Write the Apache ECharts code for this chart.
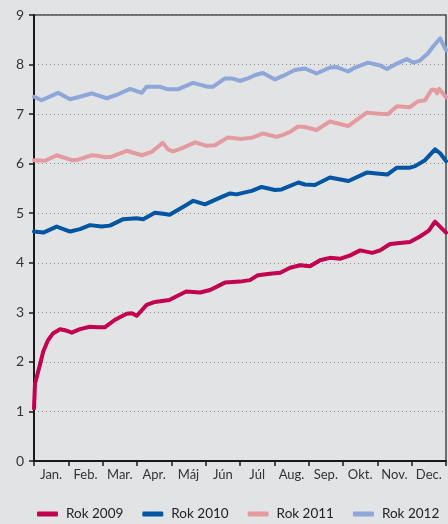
<!DOCTYPE html>
<html><head><meta charset="utf-8">
<script src="https://cdn.jsdelivr.net/npm/echarts@6/dist/echarts.min.js"></script>
<style>html,body{margin:0;padding:0;background:#e2e3e5;}#c{width:448px;height:524px;}</style>
</head><body><div id="c"></div>
<script>
const months = ['Jan.','Feb.','Mar.','Apr.','Máj','Jún','Júl','Aug.','Sep.','Okt.','Nov.','Dec.'];
const seriesNames = ['Rok 2009','Rok 2010','Rok 2011','Rok 2012'];

// positions in months since 1 Jan (0..12)
const t2009 = [0,0.03,0.12,0.27,0.41,0.56,0.76,0.90,1.10,1.34,1.63,1.87,2.07,2.36,2.70,2.85,2.99,3.28,3.52,3.94,4.43,4.84,5.13,5.56,6.00,6.29,6.52,6.87,7.17,7.46,7.75,8.04,8.33,8.62,8.91,9.21,9.50,9.85,10.08,10.37,10.66,10.95,11.24,11.50,11.68,12.0];
const v2009 = [1.06,1.57,1.80,2.21,2.44,2.58,2.66,2.64,2.59,2.66,2.71,2.70,2.70,2.85,2.97,2.98,2.93,3.15,3.21,3.25,3.42,3.40,3.45,3.60,3.62,3.65,3.75,3.78,3.80,3.90,3.95,3.93,4.05,4.10,4.08,4.15,4.25,4.20,4.25,4.38,4.40,4.42,4.53,4.65,4.83,4.61];

const t2010 = [0,0.27,0.66,1.05,1.34,1.63,1.97,2.21,2.60,2.99,3.18,3.52,3.76,3.95,4.40,4.64,4.98,5.37,5.71,5.90,6.15,6.34,6.63,7.02,7.21,7.70,7.89,8.18,8.62,9.16,9.69,9.98,10.29,10.57,10.95,11.10,11.39,11.68,11.83,12.0];
const v2010 = [4.63,4.61,4.73,4.63,4.68,4.76,4.73,4.75,4.88,4.90,4.88,5.01,4.99,4.97,5.15,5.25,5.18,5.30,5.40,5.38,5.42,5.45,5.53,5.47,5.48,5.62,5.58,5.57,5.72,5.65,5.82,5.80,5.78,5.92,5.92,5.95,6.07,6.29,6.21,6.05];

const t2011 = [0,0.32,0.66,1.10,1.28,1.68,1.86,2.07,2.26,2.70,3.14,3.43,3.75,3.82,3.90,4.05,4.30,4.69,5.03,5.27,5.65,6.05,6.38,6.67,7.07,7.25,7.46,7.69,7.89,8.23,8.62,9.15,9.69,10.13,10.31,10.57,10.95,11.19,11.39,11.58,11.68,11.74,11.80,12.0];
const v2011 = [6.07,6.06,6.17,6.07,6.08,6.17,6.16,6.13,6.14,6.26,6.17,6.24,6.42,6.36,6.29,6.25,6.31,6.43,6.36,6.37,6.53,6.50,6.53,6.61,6.54,6.58,6.64,6.75,6.74,6.68,6.85,6.76,7.03,7.00,7.00,7.16,7.14,7.26,7.28,7.49,7.49,7.42,7.51,7.34];

const t2012 = [0,0.22,0.70,1.05,1.28,1.68,1.86,2.12,2.45,2.80,3.14,3.28,3.67,3.90,4.19,4.63,5.07,5.21,5.56,5.76,6.00,6.23,6.44,6.67,7.02,7.25,7.60,7.89,8.23,8.62,8.82,9.15,9.35,9.73,10.08,10.28,10.57,10.86,11.04,11.24,11.48,11.62,11.83,12.0];
const v2012 = [7.35,7.28,7.43,7.30,7.34,7.42,7.38,7.32,7.40,7.51,7.43,7.55,7.55,7.50,7.50,7.63,7.55,7.55,7.72,7.72,7.67,7.72,7.79,7.83,7.70,7.77,7.89,7.92,7.82,7.94,7.95,7.86,7.94,8.04,7.98,7.91,8.02,8.11,8.04,8.08,8.23,8.36,8.53,8.29];

const colors = ['#c2004f','#0056a3','#e49ba0','#8fa6d8'];
const tSets = [t2009,t2010,t2011,t2012];
const vSets = [v2009,v2010,v2011,v2012];
const zip = (t,v) => t.map((x,i)=>[x,v[i]]);

const font = 'Lato, "Noto Sans", sans-serif';
const chart = echarts.init(document.getElementById('c'), null, {renderer:'canvas'});
chart.setOption({
  backgroundColor: '#e2e3e5',
  animation: false,
  grid: {left:34, right:2, top:15, bottom:63, show:true, borderColor:'#4a4a4a', borderWidth:1.5, backgroundColor:'transparent'},
  legend: {
    top: 507, left: 37, width: 420, itemWidth: 21, itemHeight: 5, itemGap: 19, icon: 'roundRect',
    padding: 0,
    data: seriesNames,
    textStyle: {fontFamily: font, fontSize: 13.5, color:'#222', padding:[0,0,0,3]}
  },
  xAxis: [
    {type:'value', min:0, max:12, show:false},
    {type:'category', data: months, boundaryGap:true, position:'bottom',
     axisLine:{show:true, lineStyle:{color:'#1a1a1a', width:2}},
     axisTick:{show:true, alignWithLabel:false, length:5, lineStyle:{color:'#1a1a1a', width:1.5}},
     axisLabel:{fontFamily:font, fontSize:13, color:'#333', margin:7, interval:0},
     splitLine:{show:false}}
  ],
  yAxis: {
    type:'value', min:0, max:9, interval:1,
    axisLine:{show:true, lineStyle:{color:'#1a1a1a', width:2}},
    axisTick:{show:true, length:5, lineStyle:{color:'#1a1a1a', width:1.5}},
    axisLabel:{fontFamily:font, fontSize:14, color:'#333', margin:10},
    splitLine:{show:true, lineStyle:{color:'#8a8a8a', width:1, type:[1,3]}}
  },
  series: seriesNames.map((n,i)=>({
    name:n, type:'line', xAxisIndex:0, showSymbol:false, symbol:'none',
    data: zip(tSets[i], vSets[i]),
    lineStyle:{color:colors[i], width:4, cap:'round', join:'round'},
    itemStyle:{color:colors[i]}
  }))
});
</script></body></html>
